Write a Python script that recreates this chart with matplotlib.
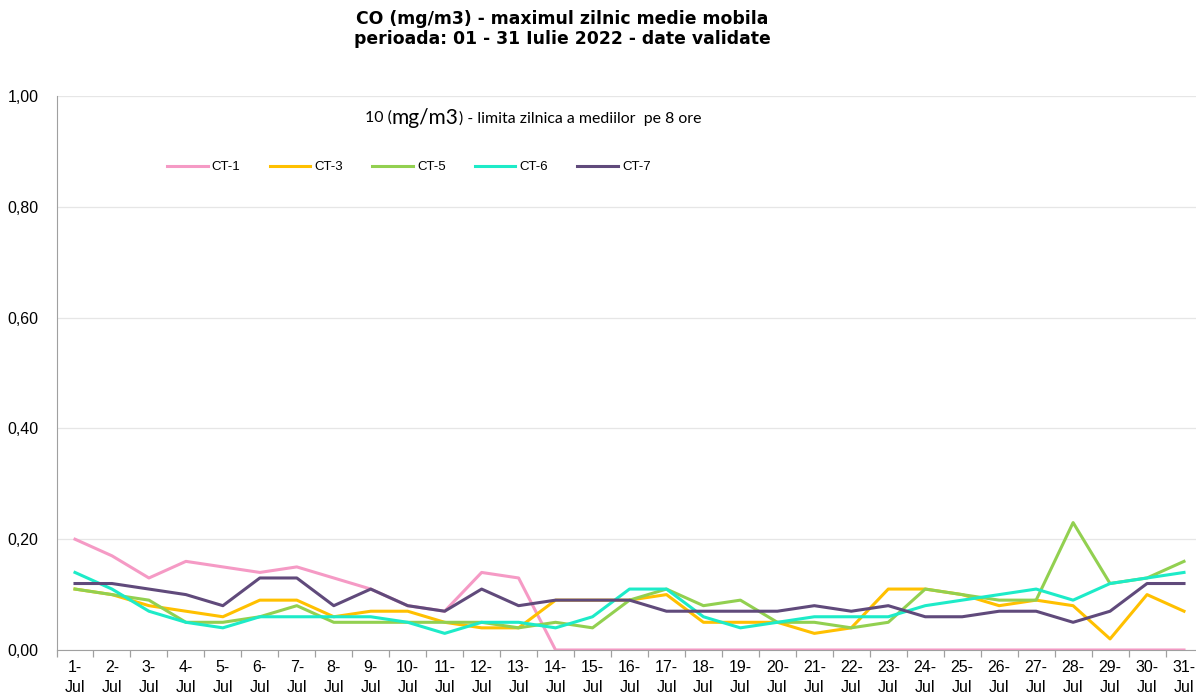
import matplotlib
matplotlib.use("Agg")
import matplotlib.pyplot as plt
from matplotlib.ticker import FixedLocator, FuncFormatter

# zilele lunii iulie
days = [f"{d}-\nJul" for d in range(1, 32)]

# valori CO (mg/m3)
ct1 = [0.20, 0.17, 0.13, 0.16, 0.15, 0.14, 0.15, 0.13, 0.11, 0.08, 0.07, 0.14, 0.13, 0.00, 0.00, 0.00,
       0.00, 0.00, 0.00, 0.00, 0.00, 0.00, 0.00, 0.00, 0.00, 0.00, 0.00, 0.00, 0.00, 0.00, 0.00]
ct3 = [0.11, 0.10, 0.08, 0.07, 0.06, 0.09, 0.09, 0.06, 0.07, 0.07, 0.05, 0.04, 0.04, 0.09, 0.09, 0.09,
       0.10, 0.05, 0.05, 0.05, 0.03, 0.04, 0.11, 0.11, 0.10, 0.08, 0.09, 0.08, 0.02, 0.10, 0.07]
ct5 = [0.11, 0.10, 0.09, 0.05, 0.05, 0.06, 0.08, 0.05, 0.05, 0.05, 0.05, 0.05, 0.04, 0.05, 0.04, 0.09,
       0.11, 0.08, 0.09, 0.05, 0.05, 0.04, 0.05, 0.11, 0.10, 0.09, 0.09, 0.23, 0.12, 0.13, 0.16]
ct6 = [0.14, 0.11, 0.07, 0.05, 0.04, 0.06, 0.06, 0.06, 0.06, 0.05, 0.03, 0.05, 0.05, 0.04, 0.06, 0.11,
       0.11, 0.06, 0.04, 0.05, 0.06, 0.06, 0.06, 0.08, 0.09, 0.10, 0.11, 0.09, 0.12, 0.13, 0.14]
ct7 = [0.12, 0.12, 0.11, 0.10, 0.08, 0.13, 0.13, 0.08, 0.11, 0.08, 0.07, 0.11, 0.08, 0.09, 0.09, 0.09,
       0.07, 0.07, 0.07, 0.07, 0.08, 0.07, 0.08, 0.06, 0.06, 0.07, 0.07, 0.05, 0.07, 0.12, 0.12]

series = [("CT-1", ct1, "#F59AC5"),
          ("CT-3", ct3, "#FFC000"),
          ("CT-5", ct5, "#92D050"),
          ("CT-6", ct6, "#1DEBC8"),
          ("CT-7", ct7, "#604A7B")]

fig = plt.figure(figsize=(11.96, 6.98), dpi=100)
W, H = 1196, 698
step = (1184 - 75) / 30
left = 75 - step / 2
ax = fig.add_axes([left / W, (H - 650) / H, 31 * step / W, (650 - 96) / H])

x = list(range(len(days)))
for name, vals, col in series:
    ax.plot(x, vals, color=col, lw=2.2, label=name, solid_joinstyle="round")

ax.set_xlim(-0.5, len(days) - 0.5)
ax.set_ylim(0, 1.0)
ax.set_yticks([0, 0.2, 0.4, 0.6, 0.8, 1.0])
ax.yaxis.set_major_formatter(FuncFormatter(lambda v, p: f"{v:.2f}".replace(".", ",")))
ax.grid(axis="y", color="#E6E6E6", lw=0.9)
ax.set_axisbelow(True)

# etichete la centrul categoriilor, liniute intre categorii
ax.set_xticks(x)
ax.set_xticklabels(days, fontsize=11.5, family="Liberation Sans", linespacing=1.45)
ax.xaxis.set_minor_locator(FixedLocator([i - 0.5 for i in range(len(days) + 1)]))
ax.tick_params(axis="x", which="major", length=0, pad=7)
ax.tick_params(axis="x", which="minor", length=5, color="#A0A0A0", width=0.9)
ax.tick_params(axis="y", length=0, pad=13, labelsize=11.5)
for lab in ax.get_yticklabels():
    lab.set_family("Liberation Sans")

for s in ["top", "right"]:
    ax.spines[s].set_visible(False)
ax.spines["left"].set_color("#A0A0A0")
ax.spines["bottom"].set_color("#A0A0A0")

# titlu
fig.text(562 / W, 1 - 29 / H, "CO (mg/m3) - maximul zilnic medie mobila\nperioada: 01 - 31 Iulie 2022 - date validate",
         ha="center", va="center", fontsize=12.4, fontweight="bold", linespacing=1.2)

# nota despre limita
t1 = fig.text(365 / W, 1 - 118 / H, "10 (", fontsize=11.4, family="Lato", va="center")
t2 = ax.annotate("mg/m3", xycoords=t1, xy=(1, 0.5), va="center", fontsize=15, family="Lato")
ax.annotate(") - limita zilnica a mediilor  pe 8 ore", xycoords=t2, xy=(1, 0.5), va="center",
            fontsize=11.4, family="Lato")

leg = ax.legend(loc="center left", bbox_to_anchor=((155 - left) / (31 * step), (650 - 167) / (650 - 96)),
                ncol=5, frameon=False, handlelength=3.1, handletextpad=0.3,
                columnspacing=2.2, prop={"family": "Liberation Sans", "size": 9.5})

fig.savefig("out.png", dpi=100)
